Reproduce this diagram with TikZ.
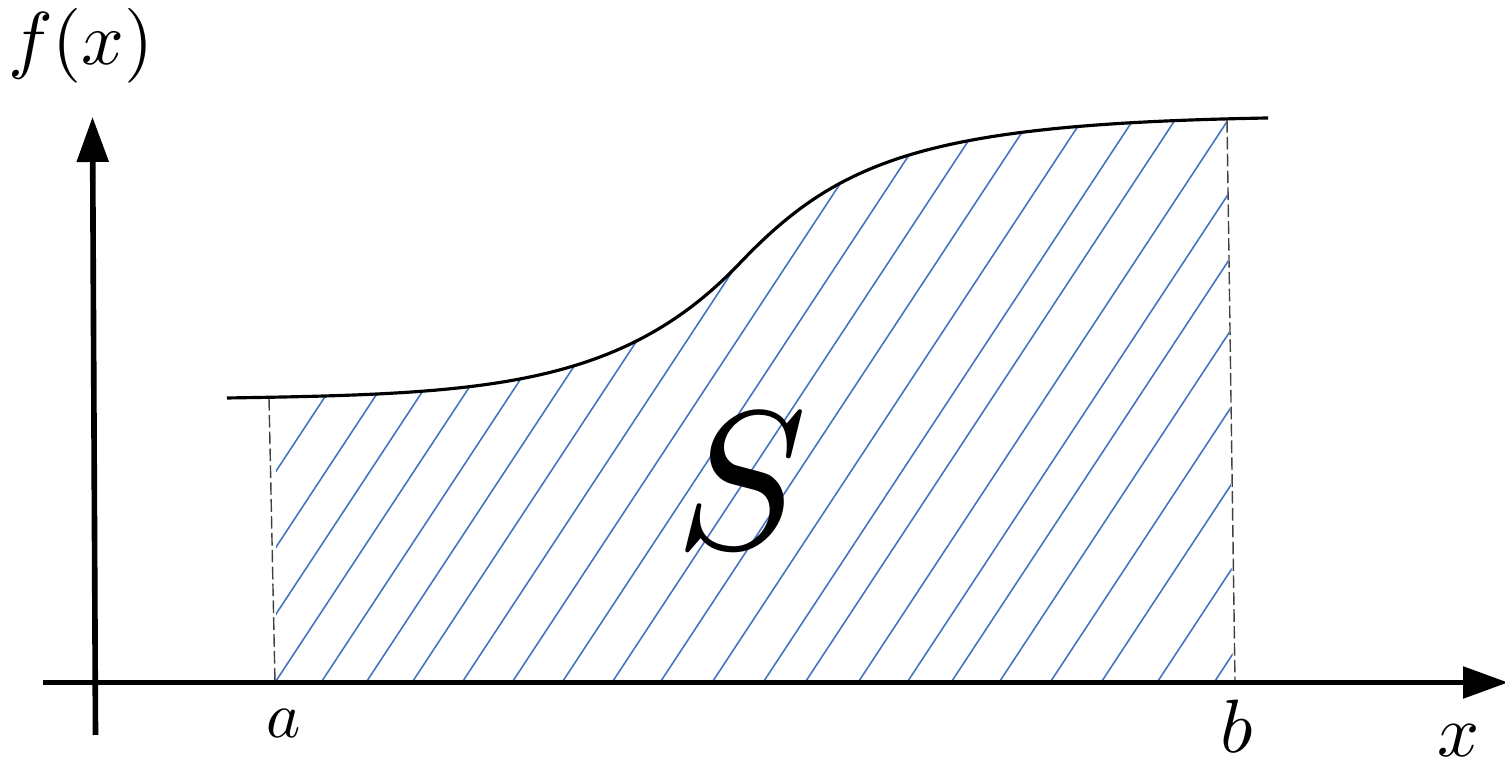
\documentclass[tikz,border=0pt]{standalone}
\usepackage{xcolor}
\usepackage{tikz}
\usetikzlibrary{arrows.meta}

\definecolor{hatchblue}{RGB}{68,114,196}
\newcommand{\topcurve}{(2.27,3.68) .. controls (4.8,3.72) and (6.2,3.77) .. (7.40,5.03) .. controls (8.4,6.08) and (9.3,6.42) .. (12.68,6.48)}

\begin{document}
\begin{tikzpicture}[
  axisline/.style={line width=1.6pt, -{Triangle[length=4.5mm, width=3.1mm]}},
  curveline/.style={line width=0.9pt, black},
  hatchline/.style={line width=0.45pt, hatchblue},
  guideline/.style={line width=0.4pt, black!75, dash pattern=on 3.6pt off 1.2pt},
  mathlabel/.style={inner sep=0pt, font=\normalsize}
]
\useasboundingbox (0,0) rectangle (15.05,7.66);

\coordinate (xstart) at (0.43,0.835);
\coordinate (xend) at (15.08,0.835);
\coordinate (ystart) at (0.955,0.31);
\coordinate (yend) at (0.925,6.49);
\coordinate (aTop) at (2.69,3.68);
\coordinate (aBot) at (2.75,0.835);
\coordinate (bTop) at (12.27,6.46);
\coordinate (bBot) at (12.35,0.835);

% hatched area
\begin{scope}
  \clip (2.76,0.835) -- (2.76,7) -- (12.26,7) -- (12.33,0.835) -- cycle;
  \clip \topcurve -- (12.68,0.835) -- (2.27,0.835) -- cycle;
  \foreach \x in {1.37,1.87,2.31,2.75,3.21,3.66,4.12,4.62,5.12,5.62,6.12,6.60,7.12,7.63,8.05,8.58,9.07,9.51,9.99,10.50,11.01,11.57,12.14}
    \draw[hatchline] (\x,0.835) -- ++(56.66:8);
\end{scope}

\draw[guideline] (aTop) -- (aBot);
\draw[guideline] (bTop) -- (bBot);

\draw[curveline] \topcurve;

\draw[axisline] (xstart) -- (xend);
\draw[axisline] (ystart) -- (yend);

\node[mathlabel, scale=2.13] (fx) at (0.81,7.2) {$f(x)$};
\node[mathlabel, scale=1.85] (alabel) at (2.84,0.42) {$a$};
\node[mathlabel, scale=2.15] (blabel) at (12.37,0.40) {$b$};
\node[mathlabel, scale=2.1] (xlabel) at (14.59,0.25) {$x$};
\node[mathlabel, scale=5.6] (area) at (7.42,2.85) {$S$};
\end{tikzpicture}
\end{document}
